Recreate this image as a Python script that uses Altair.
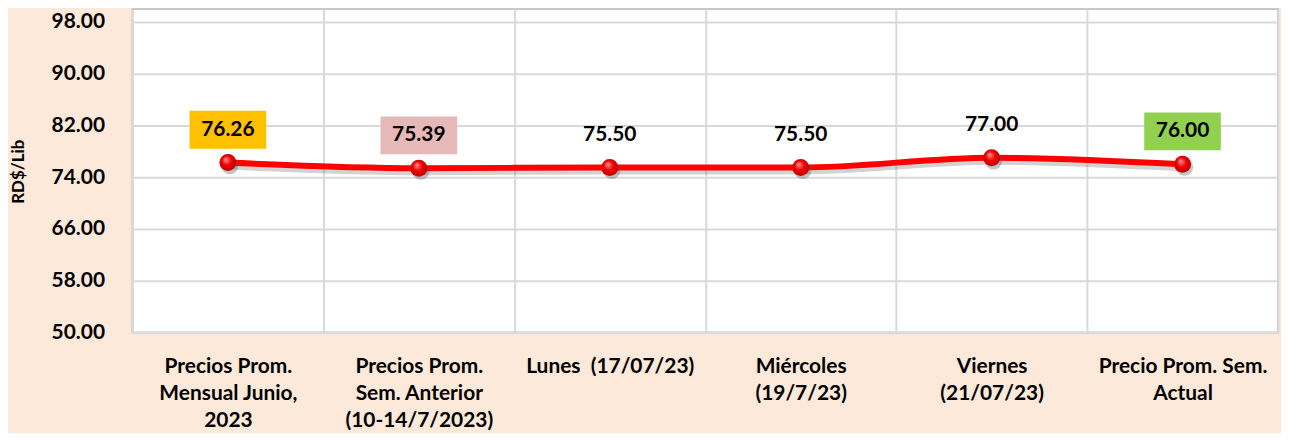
import altair as alt
import pandas as pd

categories = [
    "Precios Prom.\nMensual Junio,\n2023",
    "Precios Prom.\nSem. Anterior\n(10-14/7/2023)",
    "Lunes\u00a0 (17/07/23)",
    "Miércoles\n(19/7/23)",
    "Viernes\n(21/07/23)",
    "Precio Prom. Sem.\nActual",
]
values = [76.26, 75.39, 75.50, 75.50, 77.00, 76.00]
box_colors = ["#FFC000", "#E6B9B8", None, None, None, "#92D050"]
y_ticks = [50, 58, 66, 74, 82, 90, 98]

df = pd.DataFrame({"cat": categories, "val": values, "box": box_colors})

FONT = "Lato"

x_enc = alt.X(
    "cat:N",
    sort=categories,
    scale=alt.Scale(type="band", paddingInner=0, paddingOuter=0),
    axis=alt.Axis(
        title=None,
        labelAngle=0,
        labelExpr="split(datum.label, '\\n')",
        labelFont=FONT,
        labelFontWeight="bold",
        labelFontSize=21,
        labelColor="#000000",
        labelLineHeight=27,
        labelBaseline="top",
        labelPadding=23,
        labelLimit=300,
        ticks=False,
        domain=False,
        grid=True,
        tickBand="extent",
        gridColor="#D9D9D9",
        gridWidth=2,
    ),
)
y_enc = alt.Y(
    "val:Q",
    scale=alt.Scale(domain=[50, 100], nice=False, zero=False),
    axis=alt.Axis(
        title="RD$/Lib",
        values=y_ticks,
        format=".2f",
        labelFont=FONT,
        labelFontWeight="bold",
        labelFontSize=21,
        labelColor="#000000",
        labelPadding=28,
        ticks=False,
        domain=False,
        gridColor="#D9D9D9",
        gridWidth=2,
        titleFont=FONT,
        titleFontWeight="bold",
        titleFontSize=17,
        titleColor="#000000",
        titleAngle=-90,
        titleX=-114,
        titleY=163,
        titleAlign="center",
        titleBaseline="middle",
    ),
)

base = alt.Chart(df).encode(x=x_enc, y=y_enc)

shadow_line = base.mark_line(
    interpolate="monotone", color="#7f7f7f", strokeWidth=6, opacity=0.35, yOffset=4
)
line = base.mark_line(interpolate="monotone", color="#FF0000", strokeWidth=6)

pt_shadow = base.mark_circle(size=300, color="#555555", opacity=0.35, xOffset=2, yOffset=3)
grad = alt.RadialGradient(
    gradient="radial",
    stops=[
        alt.GradientStop(color="#FF9A9A", offset=0),
        alt.GradientStop(color="#F20000", offset=0.45),
        alt.GradientStop(color="#A80000", offset=1),
    ],
    x1=0.38, y1=0.3, x2=0.5, y2=0.5, r1=0, r2=0.62,
)
points = base.mark_circle(size=290, color=grad, opacity=1)

boxes = (
    base.transform_filter("datum.box != null")
    .mark_point(
        shape="M-1,-0.4935 L1,-0.4935 L1,0.4935 L-1,0.4935 Z",
        filled=True,
        size=77 * 77,
        opacity=1,
        yOffset=-33,
        strokeWidth=0,
    )
    .encode(color=alt.Color("box:N", scale=None))
)

labels = base.mark_text(
    font=FONT,
    fontWeight="bold",
    fontSize=21,
    color="#000000",
    baseline="middle",
    align="center",
    yOffset=-33,
).encode(text=alt.Text("val:Q", format=".2f"))

chart = (
    alt.layer(shadow_line, line, pt_shadow, points, boxes, labels)
    .properties(
        width=1151,
        height=325,
        background="#FDE9D9",
        padding={"left": 125, "top": 0, "right": 3, "bottom": 100},
        autosize=alt.AutoSizeParams(type="none"),
    )
    .configure_view(fill="#FFFFFF", stroke="#C8C8C8", strokeWidth=2)
)

chart.save("out.html", embed_options={"renderer": "svg", "actions": False})
